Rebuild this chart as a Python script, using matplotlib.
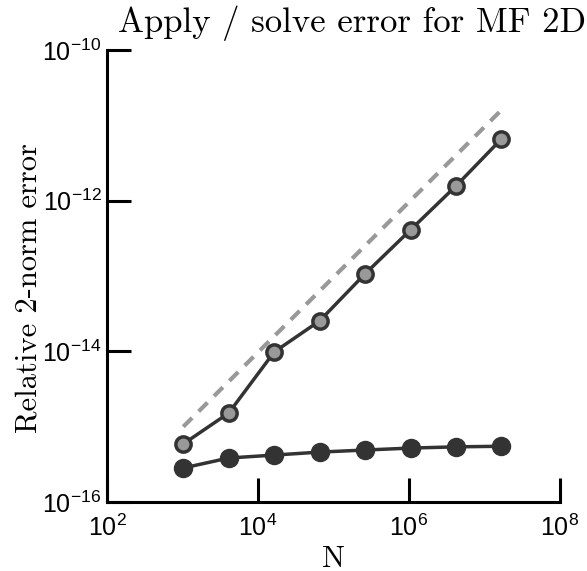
import matplotlib
matplotlib.use('Agg')
import matplotlib.pyplot as plt
import numpy as np

plt.rcParams['font.family'] = 'Liberation Sans'
plt.rcParams['mathtext.fontset'] = 'custom'
plt.rcParams['mathtext.rm'] = 'Liberation Sans'
plt.rcParams['mathtext.it'] = 'Liberation Sans'
plt.rcParams['axes.formatter.use_mathtext'] = True

N = [1024, 4096, 16384, 65536, 262144, 1048576, 4194304, 16777216]
apply_err = [5.9e-16, 1.52e-15, 9.8e-15, 2.54e-14, 1.07e-13, 4.1e-13, 1.57e-12, 6.6e-12]
solve_err = [2.83e-16, 3.84e-16, 4.2e-16, 4.6e-16, 4.9e-16, 5.2e-16, 5.4e-16, 5.5e-16]
ref_N = [1024, 16777216]
ref_err = [1.0e-15, 1.6e-11]

xticks = [1e2, 1e4, 1e6, 1e8]
yticks = [1e-16, 1e-14, 1e-12, 1e-10]

dark = '#333333'
grey = '#999999'

fig = plt.figure(figsize=(5.87, 5.71), dpi=100)
ax = fig.add_axes([0.1823, 0.1208, 0.7717, 0.7916])

ax.loglog(ref_N, ref_err, '--', color=grey, lw=3, dashes=(3, 2.2))
ax.loglog(N, apply_err, '-o', color=dark, lw=2.5, ms=11,
          mfc=grey, mec=dark, mew=2.5)
ax.loglog(N, solve_err, '-o', color=dark, lw=2.5, ms=13,
          mfc=dark, mec=dark)

ax.set_xlim(1e2, 1e8)
ax.set_ylim(1e-16, 1e-10)
ax.set_xticks(xticks)
ax.set_yticks(yticks)
ax.minorticks_off()
ax.tick_params(direction='in', length=17, width=2.2, labelsize=18)
ax.tick_params(axis='x', pad=9)
ax.tick_params(axis='y', pad=4)
for s in ['top', 'right']:
    ax.spines[s].set_visible(False)
for s in ['left', 'bottom']:
    ax.spines[s].set_linewidth(2.2)

ax.set_title('Apply / solve error for MF 2D', family='cmr10', fontsize=25,
             x=0.54, y=1.0, pad=13)
ax.set_ylabel('Relative 2-norm error', family='cmr10', fontsize=22)
ax.yaxis.set_label_coords(-0.143, 0.473)
ax.set_xlabel('N', family='cmr10', fontsize=22, labelpad=3)

fig.savefig('out.png', dpi=100)
